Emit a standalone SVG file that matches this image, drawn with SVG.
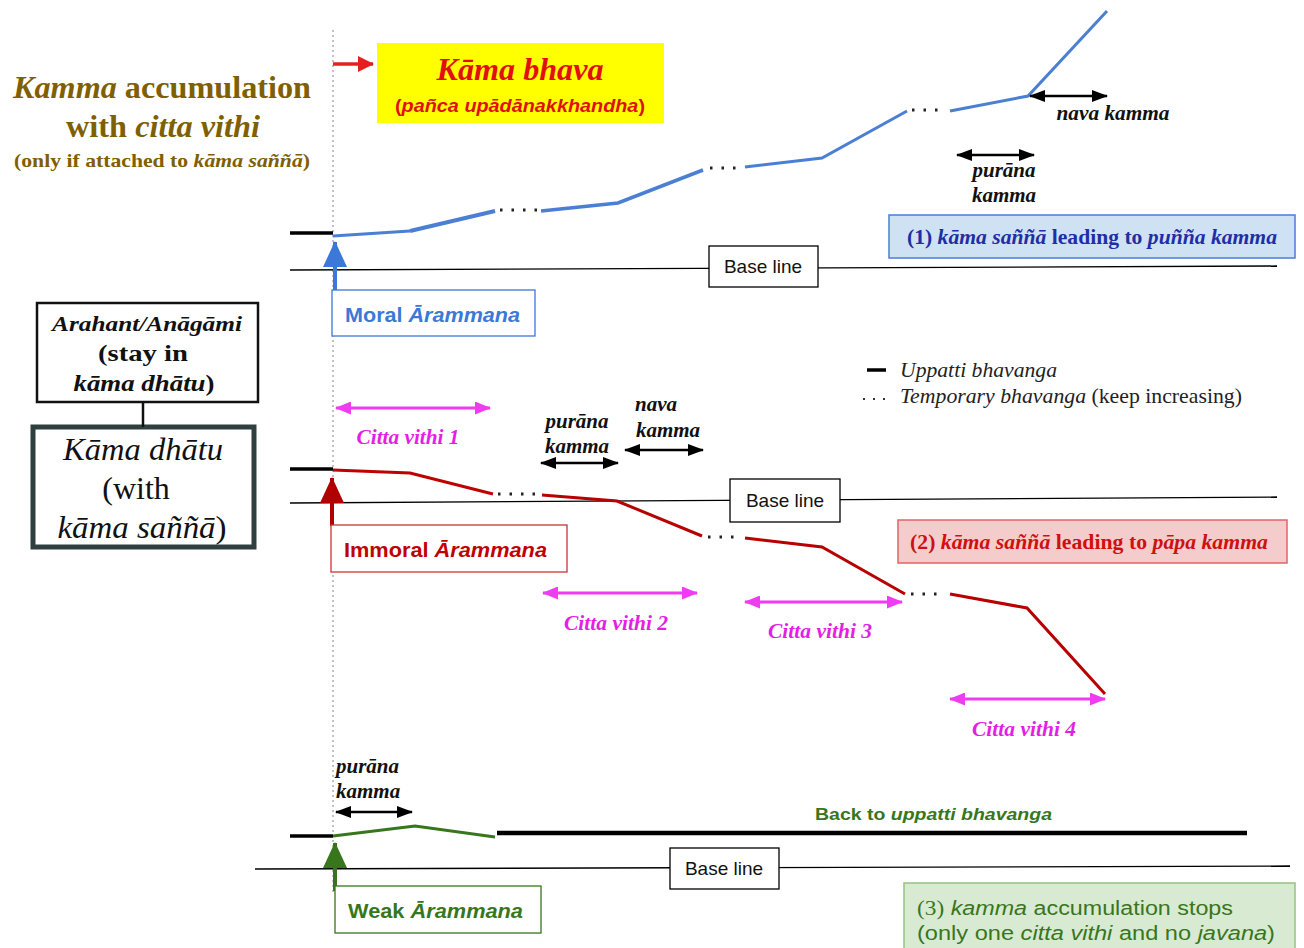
<svg xmlns="http://www.w3.org/2000/svg" width="1304" height="948" viewBox="0 0 1304 948">
<defs>
<style>
.serif{font-family:"Liberation Serif","Times New Roman",serif}
.sans{font-family:"Liberation Sans",Arial,sans-serif}
.bi{font-weight:bold;font-style:italic}
.it{font-style:italic}
.base{fill:none;stroke:#000;stroke-width:1.3}
.bl{fill:#fff;stroke:#000;stroke-width:1.3}
.bltxt{font-family:"Liberation Sans",Arial,sans-serif;font-size:19px;fill:#111}
.stub{stroke:#000;stroke-width:3.5}
.dots{stroke:#222;stroke-width:3;stroke-dasharray:2.5 9}
.lbl{font-family:"Liberation Serif","Times New Roman",serif;font-weight:bold;font-style:italic;font-size:21px;fill:#111}
.cv{font-family:"Liberation Serif","Times New Roman",serif;font-weight:bold;font-style:italic;font-size:20px;fill:#e51ee5}
.darr{stroke:#000;stroke-width:2.4;marker-start:url(#hk);marker-end:url(#hk)}
.marr{stroke:#f03cf0;stroke-width:2.8;marker-start:url(#hm);marker-end:url(#hm)}
</style>
<marker id="hk" markerUnits="userSpaceOnUse" markerWidth="16" markerHeight="12" refX="15" refY="6" orient="auto-start-reverse"><path d="M0,0 L16,6 L0,12 z" fill="#000"/></marker>
<marker id="hm" markerUnits="userSpaceOnUse" markerWidth="16" markerHeight="13" refX="15" refY="6.5" orient="auto-start-reverse"><path d="M0,0 L16,6.5 L0,13 z" fill="#f03cf0"/></marker>
<marker id="hr" markerUnits="userSpaceOnUse" markerWidth="16" markerHeight="16" refX="15" refY="8" orient="auto"><path d="M0,0 L16,8 L0,16 z" fill="#e52020"/></marker>
<marker id="hb" markerUnits="userSpaceOnUse" markerWidth="26" markerHeight="24" refX="25" refY="12" orient="auto"><path d="M0,0 L26,12 L0,24 z" fill="#3c78d8"/></marker>
<marker id="hdr" markerUnits="userSpaceOnUse" markerWidth="26" markerHeight="24" refX="25" refY="12" orient="auto"><path d="M0,0 L26,12 L0,24 z" fill="#b00000"/></marker>
<marker id="hg" markerUnits="userSpaceOnUse" markerWidth="26" markerHeight="24" refX="25" refY="12" orient="auto"><path d="M0,0 L26,12 L0,24 z" fill="#38761d"/></marker>
</defs>
<rect width="1304" height="948" fill="#fff"/>

<!-- vertical dotted reference line -->
<line x1="333" y1="30" x2="333" y2="892" stroke="#999" stroke-width="1.2" stroke-dasharray="2 3"/>

<g id="title">
<text class="serif" x="162" y="98" text-anchor="middle" font-size="31" font-weight="bold" fill="#7f6000" textLength="298" lengthAdjust="spacingAndGlyphs"><tspan font-style="italic">Kamma</tspan> accumulation</text>
<text class="serif" x="163" y="137" text-anchor="middle" font-size="31" font-weight="bold" fill="#7f6000" textLength="194" lengthAdjust="spacingAndGlyphs">with <tspan font-style="italic">citta vithi</tspan></text>
<text class="serif" x="162" y="167" text-anchor="middle" font-size="19" font-weight="bold" fill="#7f6000" textLength="296" lengthAdjust="spacingAndGlyphs">(only if attached to <tspan font-style="italic">kāma saññā</tspan>)</text>
</g>

<g id="kama-bhava">
<rect x="377" y="43" width="287" height="80" fill="#ffff00"/>
<text class="serif bi" x="520" y="80" text-anchor="middle" font-size="32" fill="#e01010" textLength="167" lengthAdjust="spacingAndGlyphs">Kāma bhava</text>
<text class="sans" x="520" y="112" text-anchor="middle" font-size="18" font-weight="bold" fill="#e01010" textLength="250" lengthAdjust="spacingAndGlyphs">(<tspan font-style="italic">pañca upādānakkhandha</tspan>)</text>
</g>

<g id="legend">
<line x1="867" y1="370" x2="886" y2="370" stroke="#000" stroke-width="3.5"/>
<text class="serif it" x="900" y="377" font-size="21" fill="#222" textLength="157" lengthAdjust="spacingAndGlyphs">Uppatti bhavanga</text>
<line x1="863" y1="399" x2="888" y2="399" stroke="#333" stroke-width="2.2" stroke-dasharray="2 8"/>
<text class="serif" x="900" y="403" font-size="21" fill="#222" textLength="342" lengthAdjust="spacingAndGlyphs"><tspan font-style="italic">Temporary bhavanga</tspan> (keep increasing)</text>
</g>

<g id="arahant">
<rect x="37" y="303" width="221" height="99" fill="#fff" stroke="#111" stroke-width="2.5"/>
<text class="serif bi" x="147" y="331" text-anchor="middle" font-size="22" fill="#111" textLength="190" lengthAdjust="spacingAndGlyphs">Arahant/Anāgāmi</text>
<text class="serif" x="143" y="361" text-anchor="middle" font-size="23" font-weight="bold" fill="#111" textLength="90" lengthAdjust="spacingAndGlyphs">(stay in</text>
<text class="serif" x="144" y="391" text-anchor="middle" font-size="23" font-weight="bold" fill="#111" textLength="141" lengthAdjust="spacingAndGlyphs"><tspan font-style="italic">kāma dhātu</tspan>)</text>
</g>

<g id="kama-dhatu">
<rect x="33" y="427" width="221" height="120" fill="#fff" stroke="#2f3e3e" stroke-width="5"/>
<text class="serif it" x="143" y="460" text-anchor="middle" font-size="32" fill="#111" textLength="160" lengthAdjust="spacingAndGlyphs">Kāma dhātu</text>
<text class="serif" x="136" y="499" text-anchor="middle" font-size="32" fill="#111">(with</text>
<text class="serif" x="142" y="538" text-anchor="middle" font-size="32" fill="#111" textLength="169" lengthAdjust="spacingAndGlyphs"><tspan font-style="italic">kāma saññā</tspan>)</text>
</g>

<g id="connectors">
<line x1="143" y1="402" x2="143" y2="427" stroke="#111" stroke-width="2.5"/>
<line x1="333" y1="64" x2="373" y2="64" stroke="#e52020" stroke-width="3.5" marker-end="url(#hr)"/>
</g>

<!-- Section 1: moral -->
<g id="baseline-1">
<line class="base" x1="290" y1="270" x2="1277" y2="266"/>
<rect class="bl" x="709" y="246" width="109" height="41"/>
<text class="bltxt" x="763" y="273" text-anchor="middle">Base line</text>
</g>
<g id="curve-1">
<line class="stub" x1="290" y1="233" x2="333" y2="233"/>
<polyline points="333,236 410,231" fill="none" stroke="#4a7fd4" stroke-width="3"/>
<polyline points="410,231 495,211" fill="none" stroke="#4a7fd4" stroke-width="4"/>
<line class="dots" x1="500" y1="210" x2="537" y2="210"/>
<polyline points="541,211 618,203 703,170" fill="none" stroke="#4a7fd4" stroke-width="3.5"/>
<line class="dots" x1="710" y1="168" x2="742" y2="168"/>
<polyline points="745,167 822,158 907,111" fill="none" stroke="#4a7fd4" stroke-width="3"/>
<line class="dots" x1="912" y1="110" x2="944" y2="110"/>
<polyline points="950,111 1028,96 1107,11" fill="none" stroke="#4a7fd4" stroke-width="3"/>
</g>
<g id="labels-1">
<line class="darr" x1="1030" y1="96" x2="1107" y2="96"/>
<text class="lbl" x="1113" y="120" text-anchor="middle" textLength="113" lengthAdjust="spacingAndGlyphs">nava kamma</text>
<line class="darr" x1="957" y1="155" x2="1034" y2="155"/>
<text class="lbl" x="1004" y="177" text-anchor="middle">purāna</text>
<text class="lbl" x="1004" y="202" text-anchor="middle">kamma</text>
</g>
<g id="box-1">
<rect x="889" y="215" width="406" height="43" fill="#cfe2f3" stroke="#4a7fd4" stroke-width="1.5"/>
<text class="serif" x="1092" y="244" text-anchor="middle" font-size="21" font-weight="bold" fill="#1f2ea6" textLength="370" lengthAdjust="spacingAndGlyphs">(1) <tspan font-style="italic">kāma saññā</tspan> leading to <tspan font-style="italic">puñña kamma</tspan></text>
</g>
<g id="moral">
<line x1="335" y1="290" x2="335" y2="242" stroke="#3c78d8" stroke-width="4" marker-end="url(#hb)"/>
<rect x="332" y="290" width="203" height="46" fill="#fff" stroke="#3c78d8" stroke-width="1.3"/>
<text class="sans" x="345" y="322" font-size="21" font-weight="bold" fill="#3c78d8" textLength="175" lengthAdjust="spacingAndGlyphs">Moral <tspan font-style="italic">Ārammana</tspan></text>
</g>

<!-- Section 2: immoral -->
<g id="labels-2">
<line class="marr" x1="336" y1="408" x2="490" y2="408"/>
<text class="cv" x="408" y="444" text-anchor="middle" textLength="103" lengthAdjust="spacingAndGlyphs">Citta vithi 1</text>
<text class="lbl" x="577" y="428" text-anchor="middle">purāna</text>
<text class="lbl" x="577" y="453" text-anchor="middle">kamma</text>
<line class="darr" x1="541" y1="463" x2="618" y2="463"/>
<text class="lbl" x="656" y="411" text-anchor="middle">nava</text>
<text class="lbl" x="668" y="437" text-anchor="middle">kamma</text>
<line class="darr" x1="625" y1="450" x2="703" y2="450"/>
</g>
<g id="baseline-2">
<line class="base" x1="290" y1="503" x2="1277" y2="497"/>
<rect class="bl" x="730" y="479" width="110" height="43"/>
<text class="bltxt" x="785" y="507" text-anchor="middle">Base line</text>
</g>
<g id="curve-2">
<line class="stub" x1="290" y1="469" x2="333" y2="469"/>
<polyline points="333,470 410,473 493,494" fill="none" stroke="#c00000" stroke-width="3"/>
<line class="dots" x1="498" y1="494" x2="535" y2="494"/>
<polyline points="542,495 617,501 702,536" fill="none" stroke="#b80000" stroke-width="3"/>
<line class="dots" x1="708" y1="537" x2="740" y2="537"/>
<polyline points="745,538 822,547 905,594" fill="none" stroke="#b80000" stroke-width="3"/>
<line class="dots" x1="911" y1="594" x2="943" y2="594"/>
<polyline points="950,594 1027,608 1105,694" fill="none" stroke="#b80000" stroke-width="3"/>
</g>
<g id="citta-vithi">
<line class="marr" x1="543" y1="593" x2="697" y2="593"/>
<text class="cv" x="616" y="630" text-anchor="middle" textLength="104" lengthAdjust="spacingAndGlyphs">Citta vithi 2</text>
<line class="marr" x1="745" y1="602" x2="902" y2="602"/>
<text class="cv" x="820" y="638" text-anchor="middle" textLength="104" lengthAdjust="spacingAndGlyphs">Citta vithi 3</text>
<line class="marr" x1="950" y1="699" x2="1105" y2="699"/>
<text class="cv" x="1024" y="736" text-anchor="middle" textLength="104" lengthAdjust="spacingAndGlyphs">Citta vithi 4</text>
</g>
<g id="immoral">
<line x1="332" y1="526" x2="332" y2="478" stroke="#b00000" stroke-width="4" marker-end="url(#hdr)"/>
<rect x="331" y="525" width="236" height="47" fill="#fff" stroke="#cc3333" stroke-width="1.3"/>
<text class="sans" x="344" y="557" font-size="21" font-weight="bold" fill="#c00000" textLength="203" lengthAdjust="spacingAndGlyphs">Immoral <tspan font-style="italic">Ārammana</tspan></text>
</g>
<g id="box-2">
<rect x="898" y="520" width="389" height="43" fill="#f4cccc" stroke="#e06666" stroke-width="1.5"/>
<text class="serif" x="1089" y="549" text-anchor="middle" font-size="21" font-weight="bold" fill="#d01010" textLength="358" lengthAdjust="spacingAndGlyphs">(2) <tspan font-style="italic">kāma saññā</tspan> leading to <tspan font-style="italic">pāpa kamma</tspan></text>
</g>

<!-- Section 3: weak -->
<g id="labels-3">
<text class="lbl" x="336" y="773">purāna</text>
<text class="lbl" x="336" y="798">kamma</text>
<line class="darr" x1="336" y1="812" x2="412" y2="812"/>
<text class="sans" x="815" y="820" font-size="17" font-weight="bold" fill="#38761d" textLength="237" lengthAdjust="spacingAndGlyphs">Back to <tspan font-style="italic">uppatti bhavanga</tspan></text>
</g>
<g id="curve-3">
<line class="stub" x1="290" y1="836" x2="333" y2="836"/>
<polyline points="333,836 415,826 495,837" fill="none" stroke="#38761d" stroke-width="3"/>
<line x1="497" y1="833" x2="1247" y2="833" stroke="#000" stroke-width="4.5"/>
</g>
<g id="baseline-3">
<line class="base" x1="255" y1="869" x2="1290" y2="866"/>
<rect class="bl" x="670" y="848" width="109" height="41"/>
<text class="bltxt" x="724" y="875" text-anchor="middle">Base line</text>
</g>
<g id="weak">
<line x1="335" y1="891" x2="335" y2="843" stroke="#38761d" stroke-width="4" marker-end="url(#hg)"/>
<rect x="335" y="886" width="206" height="47" fill="#fff" stroke="#38761d" stroke-width="1.3"/>
<text class="sans" x="348" y="918" font-size="21" font-weight="bold" fill="#38761d" textLength="175" lengthAdjust="spacingAndGlyphs">Weak <tspan font-style="italic">Ārammana</tspan></text>
</g>
<g id="box-3">
<rect x="904" y="883" width="391" height="70" fill="#d9ead3" stroke="#93c47d" stroke-width="1.5"/>
<text class="sans" x="917" y="915" font-size="20" fill="#38761d" textLength="316" lengthAdjust="spacingAndGlyphs"><tspan class="serif">(3)</tspan> <tspan font-style="italic">kamma</tspan> accumulation stops</text>
<text class="sans" x="917" y="940" font-size="20" fill="#38761d" textLength="358" lengthAdjust="spacingAndGlyphs">(only one <tspan font-style="italic">citta vithi</tspan> and no <tspan font-style="italic">javana</tspan>)</text>
</g>
</svg>
